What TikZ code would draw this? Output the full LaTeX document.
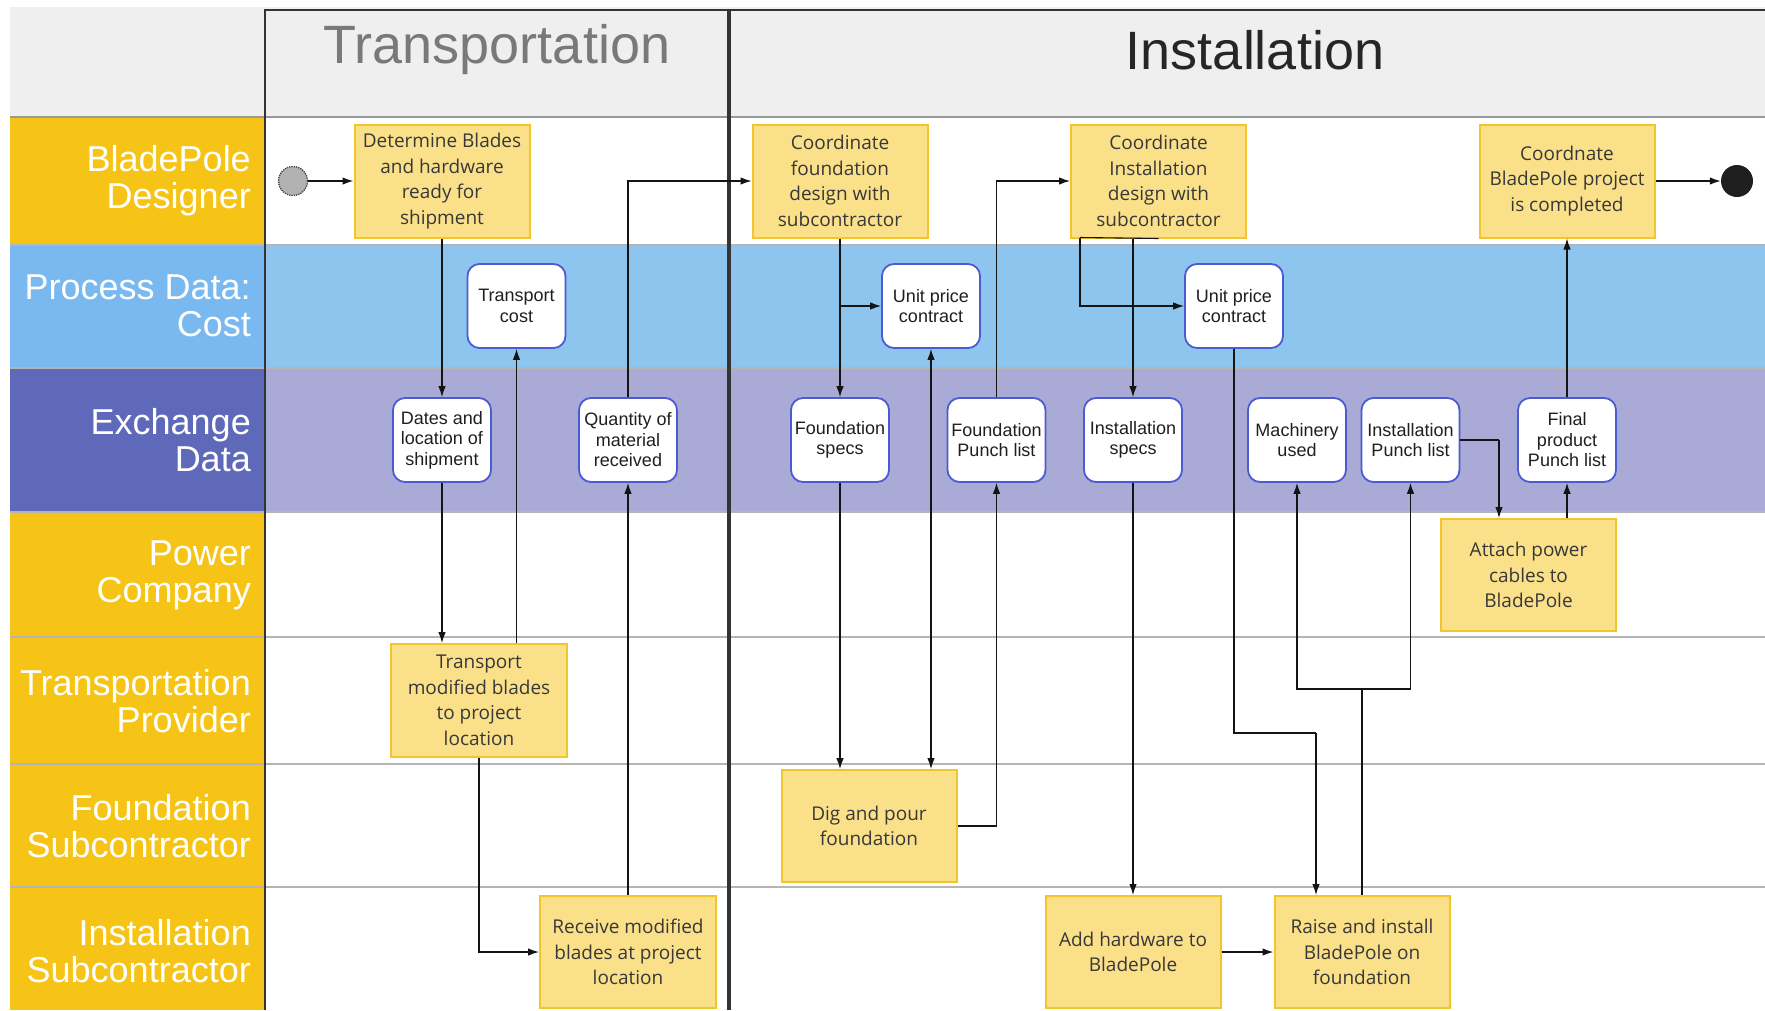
\documentclass[tikz,border=0pt]{standalone}
\usepackage{fontspec}
\setmainfont{Liberation Sans}
\newfontfamily\taskfont{Open Sans}
\usetikzlibrary{arrows.meta}

\definecolor{laneYellow}{HTML}{F6C416}
\definecolor{procLabel}{HTML}{79B9EF}
\definecolor{procBody}{HTML}{8EC5EE}
\definecolor{exLabel}{HTML}{5F69BA}
\definecolor{exBody}{HTML}{A9AAD5}
\definecolor{headGray}{HTML}{EFEFEF}
\definecolor{taskFill}{HTML}{FBE08A}
\definecolor{taskLine}{HTML}{F3C52B}
\definecolor{dataLine}{HTML}{4B5BD4}
\definecolor{sepGray}{HTML}{B5B5B5}
\definecolor{frameDark}{HTML}{333333}

\tikzset{
  task/.style={draw=taskLine, line width=2pt, fill=taskFill, minimum width=175pt,
    minimum height=112pt, align=center, inner sep=0pt,
    text=black!78, font=\taskfont\fontsize{19}{25.5}\selectfont},
  data/.style={draw=dataLine, line width=1.8pt, fill=white, rounded corners=12pt,
    minimum width=98pt, minimum height=84pt, align=center, inner sep=0pt,
    text=black!88, font=\fontsize{18}{20.5}\selectfont},
  lanelabel/.style={anchor=east, align=right, inner sep=0pt, text=white,
    font=\fontsize{36}{37}\selectfont},
  phase/.style={inner sep=0pt, font=\fontsize{54}{54}\selectfont},
  flow/.style={-{Latex[length=11pt,width=7.5pt]}, line width=1.1pt, draw=black!92},
  flowboth/.style={{Latex[length=11pt,width=7.5pt]}-{Latex[length=11pt,width=7.5pt]},
    line width=1.1pt, draw=black!92},
  plain/.style={line width=1.1pt, draw=black!92},
  sep/.style={draw=sepGray, line width=1.6pt}
}

\begin{document}
\begin{tikzpicture}[x=1pt,y=-1pt]
\useasboundingbox (0,0) rectangle (1765,1010);
\fill[white] (0,0) rectangle (1765,1010);

% ---- lane backgrounds ----
\fill[headGray] (10,7) rectangle (1765,117);
\fill[procBody] (265,245) rectangle (1765,368);
\fill[exBody] (265,368) rectangle (1765,512);
\fill[laneYellow] (10,117) rectangle (265,245);
\fill[procLabel] (10,245) rectangle (265,368);
\fill[exLabel] (10,368) rectangle (265,512);
\fill[laneYellow] (10,512) rectangle (265,1010);

% ---- lane separators ----
\foreach \yy in {245,368,512,637,764,887}
  \draw[sep] (10,\yy) -- (1765,\yy);
\draw[draw=gray!80, line width=1.2pt] (10,117) -- (1765,117);

% ---- frame of the phase columns ----
\draw[draw=frameDark, line width=1.6pt] (265,1010) -- (265,10) -- (1765,10);
\draw[draw=frameDark, line width=3.5pt] (729,10) -- (729,1010);

% ---- phase titles ----
\node[phase, text=gray!95!black] (phTrans) at (497,50) {Transportation};
\node[phase, text=black!85] (phInst) at (1255,50) {Installation};

% ---- lane titles ----
\node[lanelabel] (lnDesigner) at (251,181) {BladePole\\Designer};
\node[lanelabel] (lnCost) at (251,306) {Process Data:\\Cost};
\node[lanelabel] (lnExchange) at (251,440) {Exchange\\Data};
\node[lanelabel] (lnPower) at (251,575) {Power\\Company};
\node[lanelabel] (lnTransport) at (251,701) {Transportation\\Provider};
\node[lanelabel] (lnFoundation) at (251,826) {Foundation\\Subcontractor};
\node[lanelabel] (lnInstall) at (251,951) {Installation\\Subcontractor};

% ---- start and end ----
\node[circle, minimum size=29pt, inner sep=0pt, fill=gray!60, draw=black!75,
  densely dotted, line width=1.3pt] (start) at (293,181) {};
\node[circle, minimum size=32pt, inner sep=0pt, fill=black!88] (finish) at (1737,181) {};

% ---- activities ----
\node[task, minimum height=113pt] (det) at (442,181) {Determine Blades\\and hardware\\ready for\\shipment};
\node[task, minimum height=113pt] (cfd) at (840,181) {Coordinate\\foundation\\design with\\subcontractor};
\node[task, minimum height=113pt] (cid) at (1158.5,181) {Coordinate\\Installation\\design with\\subcontractor};
\node[task, minimum height=113pt] (cbp) at (1567,181) {Coordnate\\BladePole project\\is completed};
\node[task] (attach) at (1528.5,575) {Attach power\\cables to\\BladePole};
\node[task, minimum width=176pt, minimum height=113pt] (tmb) at (479,700.5) {Transport\\modified blades\\to project\\location};
\node[task] (dig) at (869,826) {Dig and pour\\foundation};
\node[task, minimum width=176pt] (recv) at (628,952) {Receive modified\\blades at project\\location};
\node[task] (addhw) at (1133,952) {Add hardware to\\BladePole};
\node[task] (raise) at (1362,952) {Raise and install\\BladePole on\\foundation};

% ---- data objects ----
\node[data] (tcost) at (516.5,306) {Transport\\cost};
\node[data] (upcA) at (931,306) {Unit price\\contract};
\node[data] (upcB) at (1234,306) {Unit price\\contract};
\node[data] (dates) at (442,440) {Dates and\\location of\\shipment};
\node[data] (qty) at (628,440) {Quantity of\\material\\received};
\node[data] (fspecs) at (840,440) {Foundation\\specs};
\node[data] (fpunch) at (996.5,440) {Foundation\\Punch list};
\node[data] (ispecs) at (1133,440) {Installation\\specs};
\node[data] (mach) at (1297,440) {Machinery\\used};
\node[data] (ipunch) at (1410.5,440) {Installation\\Punch list};
\node[data] (fpp) at (1567,440) {Final\\product\\Punch list};

% ---- routing points ----
\coordinate (cidLeft) at (1080,237.5);
\coordinate (upcBDrop) at (1316,733);
\coordinate (raiseJoin) at (1362,689);
\coordinate (ipunchTurn) at (1499,440);

% ---- connectors: transportation ----
\draw[flow, line width=1.5pt] (start) -- (det);
\draw[flow] (det.south) -- (dates.north);
\draw[flow] (dates.south) -- (dates.south |- tmb.north);
\draw[flow] (tcost.south |- tmb.north) -- (tcost.south);
\draw[flow] (tmb.south) |- (recv.west);
\draw[flow] (recv.north) -- (qty.south);
\draw[flow] (qty.north) |- (cfd.west);

% ---- connectors: foundation ----
\draw[flow] (cfd.south) -- (fspecs.north);
\draw[flow] (cfd.south |- upcA.west) -- (upcA.west);
\draw[flow] (fspecs.south) -- (fspecs.south |- dig.north);
\draw[flowboth] (upcA.south) -- (upcA.south |- dig.north);
\draw[flow] (dig.east) -| (fpunch.south);
\draw[flow] (fpunch.north) |- (cid.west);

% ---- connectors: installation ----
\draw[plain] (cid.south) -- (cidLeft);
\draw[flow] (cidLeft) |- (upcB.west);
\draw[flow] (ispecs.north |- cid.south) -- (ispecs.north);
\draw[flow] (ispecs.south) -- (addhw.north);
\draw[flow, line width=1.5pt] (addhw.east) -- (raise.west);
\draw[plain] (upcB.south) |- (upcBDrop);
\draw[flow] (upcBDrop) -- (upcBDrop |- raise.north);
\draw[plain] (raise.north) -- (raiseJoin);
\draw[flow] (raiseJoin) -| (mach.south);
\draw[flow] (raiseJoin) -| (ipunch.south);
\draw[plain] (ipunch.east) -- (ipunchTurn);
\draw[flow] (ipunchTurn) -- (ipunchTurn |- attach.north);
\draw[flow] (fpp.south |- attach.north) -- (fpp.south);
\draw[flow] (fpp.north) -- (cbp.south);
\draw[flow, line width=1.5pt] (cbp.east) -- (finish.west);

\end{tikzpicture}
\end{document}
